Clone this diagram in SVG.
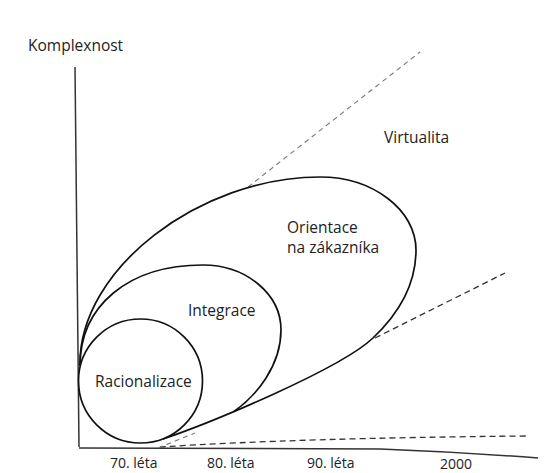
<svg xmlns="http://www.w3.org/2000/svg" width="544" height="473" viewBox="0 0 544 473">
<style>
  .lbl{font-family:"Open Sans","Liberation Sans",sans-serif;fill:#222;}
  .big{font-size:15.5px;}
  .ax{font-size:14px;}
  .shape{fill:none;stroke:#111;stroke-width:1.7;}
  .axis{fill:none;stroke:#333;stroke-width:1.5;}
  .dash-light{fill:none;stroke:#777;stroke-width:1.1;stroke-dasharray:5 4;}
  .dash-dark{fill:none;stroke:#333;stroke-width:1.3;stroke-dasharray:6 4;}
</style>
<rect width="544" height="473" fill="#ffffff"/>
<g id="axes">
  <path class="axis" d="M75,67 L79,447"/>
  <path class="axis" d="M79,448 L380,449 Q460,452 538,458"/>
  <text class="lbl big" x="28" y="51">Komplexnost</text>
  <text class="lbl ax" x="110" y="468">70. léta</text>
  <text class="lbl ax" x="207" y="468">80. léta</text>
  <text class="lbl ax" x="307" y="468">90. léta</text>
  <text class="lbl ax" x="440" y="469">2000</text>
</g>
<g id="connectors">
  <path class="dash-light" d="M248,187 L420,52"/>
  <path class="dash-dark" d="M375,338 L505,273"/>
  <path class="dash-dark" d="M160,447 Q300,438 527,436"/>
  <path class="dash-light" d="M158,448 L195,433"/>
</g>
<g id="orientace">
  <path class="shape" d="M80,366 C78,269 200,177 320,177 C373,177 416,210 416,250 C416,290 392,320 373,338 C340.3,369 211.5,422.5 163,439"/>
  <text class="lbl big" x="287" y="233">Orientace</text>
  <text class="lbl big" x="287" y="253">na zákazníka</text>
</g>
<g id="integrace">
  <path class="shape" d="M80,366 C80,306 128,265 203,265 C246,265 281,294 281,330 C281,366 256,396 234,411.5"/>
  <text class="lbl big" x="188" y="316">Integrace</text>
</g>
<g id="racionalizace">
  <circle class="shape" cx="140.5" cy="381" r="62"/>
  <text class="lbl big" x="95" y="387">Racionalizace</text>
</g>
<g id="virtualita">
  <text class="lbl big" x="384" y="143">Virtualita</text>
</g>
</svg>
